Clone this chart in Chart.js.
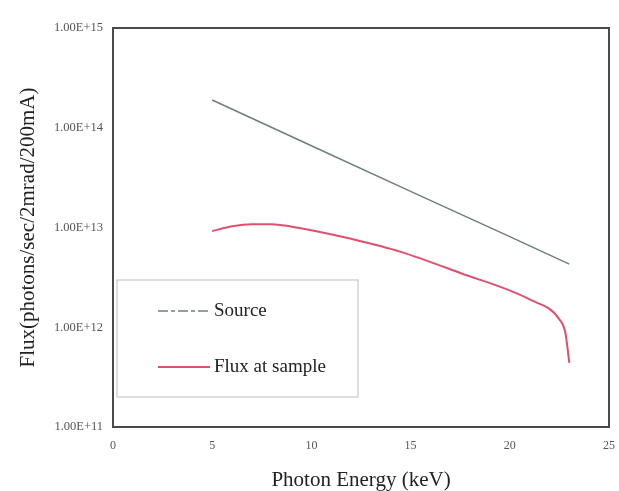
<!DOCTYPE html>
<html lang="en">
  <head>
    <meta charset="UTF-8" />
    <title>Photon flux</title>
    <script src="https://cdn.jsdelivr.net/npm/chart.js"></script>
    <style>
      html, body { margin: 0; padding: 0; background: #fff; }
      #wrap { position: relative; width: 619px; height: 491px; }
    </style>
  </head>
  <body>
    <div id="wrap">
      <canvas id="fluxChart"></canvas>
    </div>

    <script>
      // values (keV, photons/sec/2mrad/200mA)
      const sourceEnergy = [5, 10, 15, 20, 23];
      const sourceFlux = [1.9e14, 6.6e13, 2.3e13, 8.1e12, 4.3e12];

      const sampleEnergy = [5, 6, 7, 8, 9, 10, 12, 14.5, 17.5, 21, 22.5, 22.8, 23];
      const sampleFlux = [9.2e12, 1.03e13, 1.08e13, 1.08e13, 1.02e13, 9.4e12, 7.7e12, 5.7e12, 3.5e12, 1.9e12, 1.2e12, 8.8e11, 4.4e11];

      const yTicks = [1e11, 1e12, 1e13, 1e14, 1e15];
      const xTicks = [0, 5, 10, 15, 20, 25];

      const seriesNames = ["Source", "Flux at sample"];
      const seriesColors = ["#6f7f77", "#e0506e"];

      const serif = "'Liberation Serif', 'DejaVu Serif', serif";

      function toPoints(xs, ys) {
        return xs.map((x, i) => ({ x: x, y: ys[i] }));
      }

      // box round the plot area
      const frame = {
        id: "frame",
        afterDraw(chart) {
          const { ctx, chartArea: a } = chart;
          ctx.save();
          ctx.strokeStyle = "#4a4a4a";
          ctx.lineWidth = 2;
          ctx.strokeRect(a.left, a.top, a.right - a.left, a.bottom - a.top);
          ctx.restore();
        },
      };

      // legend inside the plot, lower left
      const innerLegend = {
        id: "innerLegend",
        afterDraw(chart) {
          const { ctx, chartArea: a } = chart;
          const x0 = a.left + 4, y0 = 280, w = 241, h = 117;
          ctx.save();
          ctx.fillStyle = "#fff";
          ctx.fillRect(x0, y0, w, h);
          ctx.strokeStyle = "#d4d4d4";
          ctx.lineWidth = 1.5;
          ctx.strokeRect(x0, y0, w, h);

          const rows = [311, 367];
          ctx.font = "19px " + serif;
          ctx.textBaseline = "middle";
          rows.forEach((ry, i) => {
            ctx.strokeStyle = seriesColors[i];
            ctx.lineWidth = i === 0 ? 1.5 : 2;
            ctx.setLineDash(i === 0 ? [10, 3, 4, 3] : []);
            ctx.beginPath();
            ctx.moveTo(158, ry);
            ctx.lineTo(210, ry);
            ctx.stroke();
            ctx.setLineDash([]);
            ctx.fillStyle = "#222";
            ctx.fillText(seriesNames[i], 214, ry);
          });
          ctx.restore();
        },
      };

      document.addEventListener("DOMContentLoaded", function () {
        const ctx = document.getElementById("fluxChart").getContext("2d");
        new Chart(ctx, {
          type: "line",
          data: {
            datasets: [
              {
                label: seriesNames[0],
                data: toPoints(sourceEnergy, sourceFlux),
                borderColor: seriesColors[0],
                borderWidth: 1.5,
                pointRadius: 0,
                tension: 0,
              },
              {
                label: seriesNames[1],
                data: toPoints(sampleEnergy, sampleFlux),
                borderColor: seriesColors[1],
                borderWidth: 2,
                pointRadius: 0,
                cubicInterpolationMode: "monotone",
              },
            ],
          },
          options: {
            responsive: true,
            maintainAspectRatio: false,
            animation: false,
            layout: { padding: { top: 28, right: 5, left: 0, bottom: 0 } },
            plugins: {
              legend: { display: false },
              tooltip: { enabled: false },
            },
            scales: {
              x: {
                type: "linear",
                min: 0,
                max: 25,
                grid: { display: false },
                border: { display: false },
                afterBuildTicks(scale) {
                  scale.ticks = xTicks.map((v) => ({ value: v }));
                },
                afterFit(scale) {
                  scale.height = 64;
                },
                ticks: {
                  padding: 4,
                  color: "#555",
                  font: { family: serif, size: 12 },
                },
                title: {
                  display: true,
                  text: "Photon Energy (keV)",
                  color: "#222",
                  font: { family: serif, size: 21, lineHeight: 1 },
                  padding: { top: 0, bottom: 0 },
                },
              },
              y: {
                type: "logarithmic",
                min: 1e11,
                max: 1e15,
                grid: { display: false },
                border: { display: false },
                afterBuildTicks(scale) {
                  scale.ticks = yTicks.map((v) => ({ value: v }));
                },
                afterFit(scale) {
                  scale.width = 113;
                },
                ticks: {
                  padding: 2,
                  color: "#555",
                  font: { family: serif, size: 12.5 },
                  callback: (v) => v.toExponential(2).toUpperCase(),
                },
                title: {
                  display: true,
                  text: "Flux(photons/sec/2mrad/200mA)",
                  color: "#222",
                  font: { family: serif, size: 21, lineHeight: 1 },
                  padding: { top: 18, bottom: 0 },
                },
              },
            },
          },
          plugins: [frame, innerLegend],
        });
      });
    </script>
  </body>
</html>
